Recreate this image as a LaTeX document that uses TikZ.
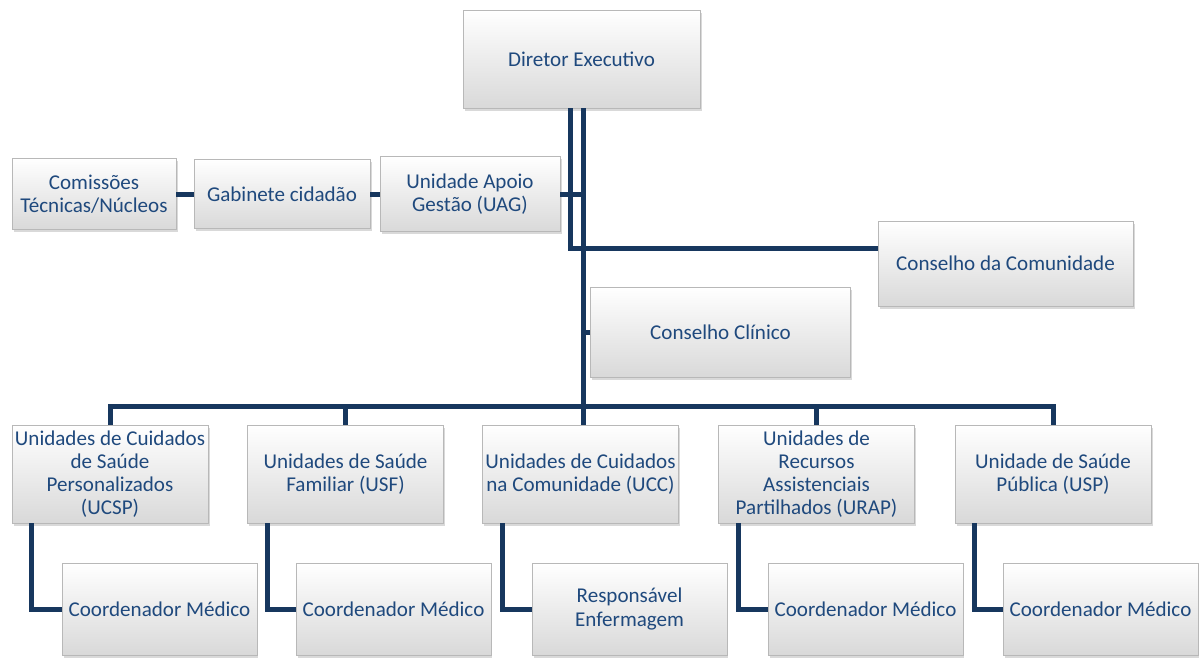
\documentclass[tikz,border=0pt]{standalone}
\usepackage{fontspec}
\setmainfont{Carlito}
\usetikzlibrary{shadows}
\definecolor{linknavy}{HTML}{17375E}
\definecolor{boxtext}{HTML}{1F497D}

\begin{document}
\begin{tikzpicture}[x=0.75pt,y=-0.75pt,
  box/.style={draw=black!28, line width=0.4pt, top color=white, bottom color=black!15,
    drop shadow={shadow xshift=1.2pt,shadow yshift=-2.2pt,opacity=0.3},
    text=boxtext, align=center, inner sep=1pt,
    font=\fontsize{15.8}{17.3}\selectfont},
  unitbox/.style={box, minimum width=147pt, minimum height=73.5pt},
  subbox/.style={box, minimum width=146pt, minimum height=69pt},
  link/.style={draw=linknavy, line width=3.75pt}]
\useasboundingbox (0,0) rectangle (1199,661);
\node[box, minimum width=177.75pt, minimum height=73.5pt] (dir) at (581.5,59) {Diretor Executivo};
\node[box, minimum width=123pt, minimum height=53.25pt] (com) at (94,194) {Comissões\\Técnicas/Núcleos};
\node[box, minimum width=132pt, minimum height=51.75pt] (gab) at (282,194) {Gabinete cidadão};
\node[box, minimum width=135pt, minimum height=56.25pt] (uag) at (470,194) {Unidade Apoio\\Gestão (UAG)};
\node[box, minimum width=191.25pt, minimum height=63.75pt] (ccom) at (1005.5,263.5) {Conselho da Comunidade};
\node[box, minimum width=195pt, minimum height=67.5pt] (ccli) at (720.5,332) {Conselho Clínico};
\node[unitbox] (u1) at (110,474) {Unidades de Cuidados\\de Saúde\\Personalizados\\(UCSP)};
\node[unitbox] (u2) at (345.5,474) {Unidades de Saúde\\Familiar (USF)};
\node[unitbox] (u3) at (580.5,474) {Unidades de Cuidados\\na Comunidade (UCC)};
\node[unitbox] (u4) at (816.5,474) {Unidades de\\Recursos\\Assistenciais\\Partilhados (URAP)};
\node[unitbox] (u5) at (1053,474) {Unidade de Saúde\\Pública (USP)};
\node[subbox] (c1) at (159.5,609) {Coordenador Médico};
\node[subbox] (c2) at (393.5,609) {Coordenador Médico};
\node[subbox] (c3) at (629.5,609) {Responsável\\Enfermagem};
\node[subbox] (c4) at (865.5,609) {Coordenador Médico};
\node[subbox] (c5) at (1100.5,609) {Coordenador Médico};
\coordinate (trk) at (583,406);
\draw[link] ([xshift=-8pt]dir.south) |- ([yshift=11pt]ccom.west);
\draw[link] (dir.south -| trk) -- (trk) -- (trk |- u3.north);
\draw[link] (com) -- (gab);
\draw[link] (gab) -- (uag);
\draw[link] (uag.east) -- (uag.east -| trk);
\draw[link] (ccli.west) -- (ccli.west -| trk);
\draw[link] (u1.north) |- (trk) -| (u5.north);
\draw[link] (u2.north) -- (u2.north |- trk);
\draw[link] (u4.north) -- (u4.north |- trk);
\draw[link] ([xshift=15pt]u1.south west) |- (c1.west);
\draw[link] ([xshift=15pt]u2.south west) |- (c2.west);
\draw[link] ([xshift=15pt]u3.south west) |- (c3.west);
\draw[link] ([xshift=15pt]u4.south west) |- (c4.west);
\draw[link] ([xshift=15pt]u5.south west) |- (c5.west);
\end{tikzpicture}
\end{document}
